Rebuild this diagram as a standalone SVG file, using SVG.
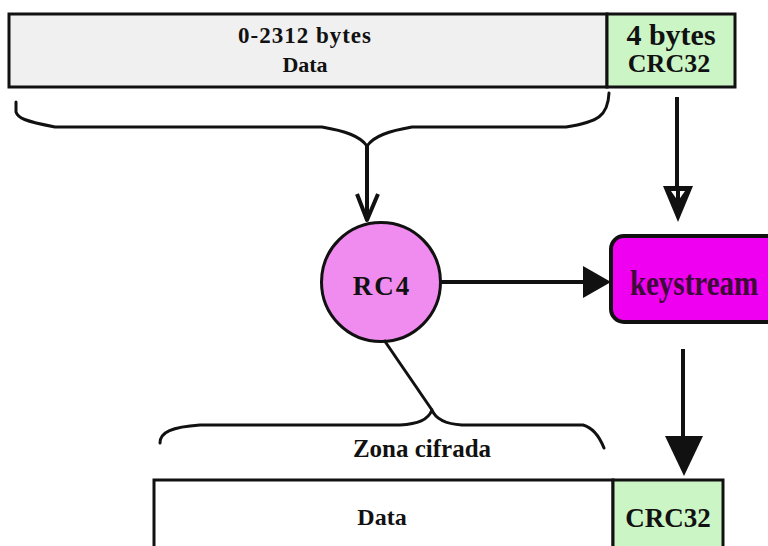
<svg xmlns="http://www.w3.org/2000/svg" width="768" height="546" viewBox="0 0 768 546">
  <defs>
    <style>
      text { font-family: "Liberation Serif", "Times New Roman", serif; font-weight: bold; fill: #111; text-anchor: middle; }
      .box { stroke: #111; stroke-width: 3; }
      .wire { fill: none; stroke: #111; stroke-width: 4; stroke-linejoin: round; }
      .brace { fill: none; stroke: #111; stroke-width: 3; stroke-linecap: round; stroke-linejoin: round; }
    </style>
  </defs>
  <rect width="768" height="546" fill="#ffffff"/>

  <!-- plaintext frame -->
  <g id="frame-plain">
    <rect class="box" x="9" y="14" width="598" height="73" fill="#f0f0f0"/>
    <rect class="box" x="607" y="14" width="128" height="73" fill="#ccf5c6"/>
    <text x="305" y="43" font-size="23" letter-spacing="1">0-2312 bytes</text>
    <text x="305" y="72" font-size="22">Data</text>
    <text x="671" y="45" font-size="30">4 bytes</text>
    <text x="669" y="72" font-size="26">CRC32</text>
  </g>

  <!-- RC4 -->
  <g id="rc4">
    <circle cx="381" cy="282" r="59.5" fill="#f08cf0" stroke="#111" stroke-width="3"/>
    <text x="382" y="295" font-size="27" letter-spacing="2">RC4</text>
  </g>

  <!-- keystream -->
  <g id="keystream">
    <rect x="611" y="236" width="180" height="86" rx="13" fill="#f000f0" stroke="#111" stroke-width="4"/>
    <text transform="translate(694,295) scale(1,1.2)" font-size="29" style="fill:#3d0a3a">keystream</text>
  </g>

  <!-- encrypted frame -->
  <g id="frame-cipher">
    <rect class="box" x="154" y="480" width="459" height="80" fill="#ffffff"/>
    <rect class="box" x="613" y="480" width="110" height="80" fill="#ccf5c6"/>
    <text x="382" y="525" font-size="24">Data</text>
    <text x="668" y="527" font-size="27">CRC32</text>
    <text x="422" y="457" font-size="25">Zona cifrada</text>
  </g>

  <g id="connectors">
    <!-- brace over data field -->
    <path class="brace" d="M16,102 L16,112 C18,118 24,121 55,127 L322,127 C345,131 360,136 367,146 C374,136 389,131 412,127 L566,127 C598,122 608,116 609,93"/>
    <!-- brace to RC4 -->
    <line class="wire" x1="367" y1="146" x2="367" y2="220"/>
    <polyline class="wire" points="357,194 367,220 378,194"/>

    <!-- CRC32 to keystream -->
    <line class="wire" x1="677" y1="97" x2="677" y2="190"/>
    <polygon points="663,186 693,186 678,222" fill="#111"/>
    <polygon points="671,191 685,191 678,201" fill="#ffffff"/>
    <line x1="678" y1="186" x2="678" y2="203" stroke="#111" stroke-width="4"/>

    <!-- RC4 to keystream -->
    <line class="wire" x1="441" y1="282" x2="590" y2="282"/>
    <polygon points="583,266 611,282 583,298" fill="#111"/>

    <!-- keystream to CRC32 -->
    <line class="wire" x1="683" y1="349" x2="683" y2="445"/>
    <polygon points="665,436 703,436 684,476" fill="#111"/>

    <!-- RC4 to encrypted zone -->
    <line class="wire" x1="384" y1="340" x2="432" y2="410" style="stroke-width:3"/>
    <path class="brace" d="M160,443 C160,432 172,427 200,425 L400,425 C418,424 428,420 432,410 C436,420 446,424 462,425 L583,425 C594,428 600,438 604,448"/>
  </g>
</svg>
